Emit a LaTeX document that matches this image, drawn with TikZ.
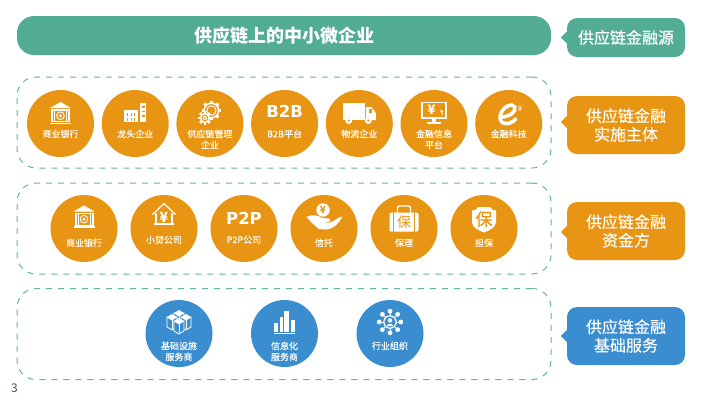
\documentclass[tikz,border=0pt]{standalone}
\usepackage{fontspec}
\setmainfont{Noto Sans CJK SC}
\newfontfamily\logofont{DejaVu Sans}
\newfontfamily\heavyfont[FakeBold=0.15]{Noto Sans CJK SC}
\usetikzlibrary{
    positioning
}
\definecolor{tealbar}{HTML}{53AD95}
\definecolor{tealdash}{HTML}{5DB89E}
\definecolor{orangefill}{HTML}{E89514}
\definecolor{bluefill}{HTML}{3A8ECF}
\definecolor{pagegray}{HTML}{44546A}
\newcommand{\gearshape}[4]{%
    \foreach \a in {0,45,...,315} {
        \fill[white, rotate around={\a:(#1,#2)}] (#1-1.4,#2-#3-1.9) rectangle (#1+1.4,#2);
    }
    \fill[white] (#1,#2) circle [radius=#3];
    \fill[#4] (#1,#2) circle [radius=#3-1.6];
    \fill[white] (#1,#2) circle [radius=#3-2.8];
    \fill[#4] (#1,#2) circle [radius=#3-4];
}
\newcommand{\cubeshape}[2]{%
    \draw[white, line width=0.8pt, fill=bluefill] (#1-5,#2+3) -- (#1-5,#2+13) -- (#1,#2+16) -- (#1+5,#2+13) -- (#1+5,#2+3) -- (#1,#2+6) -- cycle;
    \draw[white, line width=0.8pt] (#1,#2+6) -- (#1,#2+16);
    \fill[white] (#1,#2) -- (#1+5,#2+3) -- (#1,#2+6) -- (#1-5,#2+3) -- cycle;
}
\tikzset{%
    group panel/.style={%
        rectangle,
        draw=tealdash,
        line width=1pt,
        dash pattern=on 6pt off 6pt,
        rounded corners=19pt,
        minimum width=534pt,
        minimum height=91pt,
    },
    top bar/.style={%
        rectangle,
        fill=tealbar,
        rounded corners=17pt,
        minimum width=534pt,
        minimum height=39pt,
        text=white,
        font=\fontsize{18}{18}\bfseries\selectfont,
    },
    tag/.style={%
        rectangle,
        rounded corners=10pt,
        minimum width=118pt,
        minimum height=58pt,
        inner sep=0pt,
        text=white,
        align=center,
        font=\heavyfont\fontsize{16}{18.5}\selectfont,
    },
    member/.style={%
        circle,
        inner sep=0pt,
        outer sep=0pt,
        minimum width=67pt,
    },
    orange member/.style={%
        member,
        fill=orangefill,
    },
    blue member/.style={%
        member,
        fill=bluefill,
    },
    caption/.style={%
        inner sep=0pt,
        text=white,
        align=center,
        font=\heavyfont\fontsize{9}{11}\selectfont,
    },
    logo text/.style={%
        inner sep=0pt,
        text=white,
        font=\logofont\bfseries\fontsize{16.5}{16.5}\selectfont,
    },
    bank icon/.pic={
        \fill[white] (-10.5,-5) -- (0,-11) -- (10.5,-5) -- cycle;
        \fill[white] (-9.5,-4) rectangle (9.5,9);
        \fill[white] (-10.5,9.5) rectangle (10.5,11);
        \fill[orangefill] (-7.5,-2.5) rectangle (7.5,8);
        \fill[white] (-6.5,-2.5) rectangle (-5.5,8);
        \fill[white] (5.5,-2.5) rectangle (6.5,8);
        \draw[white, line width=0.9pt] (0,2.7) circle [radius=3.8];
        \fill[white] (0,2.7) circle [radius=1.6];
    },
    city icon/.pic={
        \fill[white] (-11,-3) rectangle (3,9);
        \fill[white] (5,-10) rectangle (11,9);
        \foreach \i in {-7.5,-4,-0.5} {
            \fill[orangefill] (\i-0.5,0) rectangle (\i+0.5,2.5);
            \fill[orangefill] (\i-0.5,5) rectangle (\i+0.5,7.5);
        }
        \foreach \j in {-7,-2.5,2} {
            \fill[orangefill] (6.5,\j) rectangle (9.5,\j+1.5);
        }
    },
    gears icon/.pic={
        \gearshape{1.5}{-2.5}{8}{orangefill}
        \gearshape{-5}{5}{5}{orangefill}
    },
    truck icon/.pic={
        \fill[white] (-16.5,-10) rectangle (5.5,7);
        \fill[white] (6.5,-6) -- (12,-6) -- (16.5,0) -- (16.5,7) -- (6.5,7) -- cycle;
        \fill[orangefill] (10,-4) rectangle (13,0);
        \foreach \i in {-10.5,9} {
            \fill[white] (\i,7.5) circle [radius=3.4];
            \fill[orangefill] (\i,7.5) circle [radius=1.2];
        }
    },
    screen icon/.pic={
        \draw[white, line width=1.2pt] (-12,-10.5) rectangle (12,5);
        \fill[white] (-2,5) rectangle (2,9);
        \fill[white] (-7,9) rectangle (7,11);
        \node[inner sep=0pt, text=white, font=\fontsize{13}{13}\bfseries\selectfont] (yen sign) at (-2.5,-3) {¥};
        \fill[white] (6,-3.5) -- (9.5,-1.5) -- (8,-1) -- (9,1.5) -- (8,1.5) -- (7,-0.5) -- cycle;
    },
    ebank icon/.pic={
        \draw[white, line width=3.6pt, line cap=round] (-7.5,3) .. controls (0,3) and (8,-2) .. (6,-7) .. controls (4,-12) and (-7,-7) .. (-8.5,2) .. controls (-10,11) and (1,12) .. (7,5);
        \node[inner sep=0pt, text=white, font=\fontsize{8}{8}\selectfont] (small yen) at (11.5,-5) {¥};
    },
    house icon/.pic={
        \draw[white, line width=1.2pt] (-11.5,-1) -- (0,-12) -- (11.5,-1);
        \draw[white, line width=1.2pt] (-8,-3) -- (-8,8.5);
        \draw[white, line width=1.2pt] (8,-3) -- (8,8.5);
        \draw[white, line width=1.2pt] (-10,8.5) -- (10,8.5);
        \node[inner sep=0pt, text=white, font=\fontsize{14}{14}\bfseries\selectfont] (yen sign) at (0,1.5) {¥};
    },
    hand icon/.pic={
        \fill[white] (-1,-8) circle [radius=6.7];
        \node[inner sep=0pt, text=orangefill, font=\fontsize{10}{10}\bfseries\selectfont] (coin yen) at (-1,-8) {¥};
        \fill[white] (-17.5,-1) .. controls (-12,-4) and (-6,-3) .. (-2,0) -- (5,0.5) .. controls (7,1) and (7,4) .. (4,4) -- (-2,4) -- (4,5) .. controls (10,4) and (14,-1) .. (18.5,-1.5) .. controls (15,5) and (10,11) .. (2,11.5) -- (-5,11) .. controls (-9,8) and (-13,4) .. (-17.5,-1) -- cycle;
    },
    case icon/.pic={
        \draw[white, line width=1.3pt, rounded corners=2pt] (-6.5,-6) -- (-6.5,-13.5) -- (6.5,-13.5) -- (6.5,-6);
        \fill[white, rounded corners=1.5pt] (-14.5,-7) rectangle (14.5,12);
        \fill[orangefill] (-11,-7) rectangle (-10,12);
        \fill[orangefill] (10,-7) rectangle (11,12);
        \node[inner sep=0pt, text=orangefill, font=\fontsize{14}{14}\selectfont] (case sign) at (0,2.5) {保};
    },
    shield icon/.pic={
        \fill[white] (-12,-9) .. controls (-9,-9) and (-7,-10) .. (-6,-12.5) -- (6,-12.5) .. controls (7,-10) and (9,-9) .. (12,-9) -- (12,3) .. controls (12,8) and (5,11) .. (0,13) .. controls (-5,11) and (-12,8) .. (-12,3) -- cycle;
        \node[inner sep=0pt, text=orangefill, font=\heavyfont\fontsize{17}{17}\selectfont] (shield sign) at (0,-0.5) {保};
    },
    boxes icon/.pic={
        \cubeshape{0}{-12}
        \cubeshape{-7}{-8}
        \cubeshape{7}{-8}
        \cubeshape{0}{-4}
    },
    bars icon/.pic={
        \fill[white] (-10.5,0.7) rectangle (-6.2,9.7);
        \fill[white] (-4.8,-4.7) rectangle (-1.5,9.7);
        \fill[white] (-0.2,-11) rectangle (4.5,9.7);
        \fill[white] (6.5,-2) rectangle (10.5,9.7);
        \draw[white, line width=0.8pt] (-10.5,11) -- (10.5,11);
    },
    network icon/.pic={
        \foreach \a in {0,45,...,315} {
            \draw[white, line width=0.8pt] (0,0) -- (\a:10.8);
            \fill[white] (\a:10.8) circle [radius=2.4];
        }
        \fill[white] (0,0) circle [radius=6.8];
        \fill[bluefill] (0,0) circle [radius=5.6];
        \fill[white] (0,-1.6) circle [radius=2.2];
        \fill[white] (-3.2,4.2) .. controls (-3,1) and (3,1) .. (3.2,4.2) -- cycle;
    },
}
\begin{document}
\begin{tikzpicture}[x=1pt, y=-1pt]

    \useasboundingbox (0,0) rectangle (717,400);

    \node[top bar] (smes) at (284,35.5) {\raisebox{1pt}{供应链上的中小微企业}};

    \node[group panel] (panel1) at (284,122.5) {};
    \node[group panel] (panel2) at (284,228.5) {};
    \node[group panel] (panel3) at (284,334) {};

    \node[tag, fill=tealbar, minimum height=39pt] (tag0) at (626,37.5) {供应链金融源};
    \node[tag, fill=orangefill] (tag1) at (626,125) {供应链金融\\实施主体};
    \node[tag, fill=orangefill] (tag2) at (626,231) {供应链金融\\资金方};
    \node[tag, fill=bluefill] (tag3) at (626,336) {供应链金融\\基础服务};

    \fill[tealbar] ([yshift=6pt]tag0.west) -- ++(-6,6) -- ++(6,6) -- cycle;
    \fill[orangefill] ([yshift=9pt]tag1.west) -- ++(-6,6) -- ++(6,6) -- cycle;
    \fill[orangefill] ([yshift=5pt]tag2.west) -- ++(-6,6) -- ++(6,6) -- cycle;
    \fill[bluefill] ([yshift=6pt]tag3.west) -- ++(-6,6) -- ++(6,6) -- cycle;

    \node[orange member] (bank) at (60.5,123.5) {};
    \node[orange member, right=7.7pt of bank] (leader) {};
    \node[orange member, right=7.7pt of leader] (scm) {};
    \node[orange member, right=7.7pt of scm] (btob) {};
    \node[orange member, right=7.7pt of btob] (logistics) {};
    \node[orange member, right=7.7pt of logistics] (info) {};
    \node[orange member, right=7.7pt of info] (fintech) {};

    \node[orange member] (bank2) at (84,228.5) {};
    \node[orange member, right=13pt of bank2] (loan) {};
    \node[orange member, right=13pt of loan] (ptop) {};
    \node[orange member, right=13pt of ptop] (trust) {};
    \node[orange member, right=13pt of trust] (factoring) {};
    \node[orange member, right=13pt of factoring] (guarantee) {};

    \node[blue member] (infra) at (179,333.5) {};
    \node[blue member, right=38.5pt of infra] (itservice) {};
    \node[blue member, right=38.5pt of itservice] (assoc) {};

    \pic at ([yshift=10.5pt]bank.center) {bank icon};
    \pic at ([yshift=10.5pt]leader.center) {city icon};
    \pic at ([yshift=10.5pt]scm.center) {gears icon};
    \node[logo text] (btob logo) at ([yshift=12pt]btob.center) {B2B};
    \pic at ([yshift=10.5pt]logistics.center) {truck icon};
    \pic at ([yshift=10.5pt]info.center) {screen icon};
    \pic at ([yshift=9.5pt]fintech.center) {ebank icon};

    \pic at ([yshift=12pt]bank2.center) {bank icon};
    \pic at ([yshift=13pt]loan.center) {house icon};
    \node[logo text] (ptop logo) at ([yshift=10.5pt]ptop.center) {P2P};
    \pic at ([yshift=10.5pt]trust.center) {hand icon};
    \pic at ([yshift=9pt]factoring.center) {case icon};
    \pic at ([yshift=9pt]guarantee.center) {shield icon};

    \pic at ([yshift=11.5pt]infra.center) {boxes icon};
    \pic at ([yshift=11.5pt]itservice.center) {bars icon};
    \pic at ([yshift=11.5pt]assoc.center) {network icon};

    \node[caption, anchor=north] (bank label) at ([yshift=-6pt]bank.center) {商业银行};
    \node[caption, anchor=north] (leader label) at ([yshift=-6pt]leader.center) {龙头企业};
    \node[caption, anchor=north] (scm label) at ([yshift=-6pt]scm.center) {供应链管理\\企业};
    \node[caption, anchor=north] (btob label) at ([yshift=-6pt]btob.center) {B2B平台};
    \node[caption, anchor=north] (logistics label) at ([yshift=-6pt]logistics.center) {物流企业};
    \node[caption, anchor=north] (info label) at ([yshift=-6pt]info.center) {金融信息\\平台};
    \node[caption, anchor=north] (fintech label) at ([yshift=-6pt]fintech.center) {金融科技};

    \node[caption, anchor=north] (bank2 label) at ([yshift=-10pt]bank2.center) {商业银行};
    \node[caption, anchor=north] (loan label) at ([yshift=-7pt]loan.center) {小贷公司};
    \node[caption, anchor=north] (ptop label) at ([yshift=-7pt]ptop.center) {P2P公司};
    \node[caption, anchor=north] (trust label) at ([yshift=-10pt]trust.center) {信托};
    \node[caption, anchor=north] (factoring label) at ([yshift=-10pt]factoring.center) {保理};
    \node[caption, anchor=north] (guarantee label) at ([yshift=-10pt]guarantee.center) {担保};

    \node[caption, anchor=north] (infra label) at ([yshift=-8pt]infra.center) {基础设施\\服务商};
    \node[caption, anchor=north] (itservice label) at ([yshift=-8pt]itservice.center) {信息化\\服务商};
    \node[caption, anchor=north] (assoc label) at ([yshift=-8pt]assoc.center) {行业组织};

    \node[inner sep=0pt, text=pagegray, font=\fontsize{12}{12}\selectfont] (page) at (14.5,388) {3};
\end{tikzpicture}
\end{document}
